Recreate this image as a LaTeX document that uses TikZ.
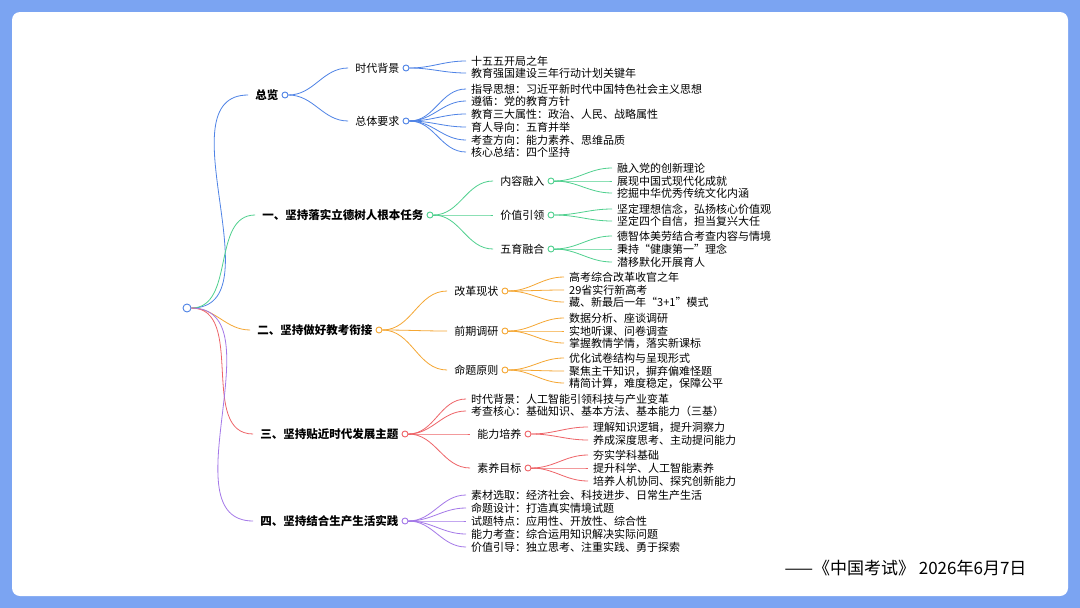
\documentclass[tikz,border=0pt]{standalone}
\usepackage{fontspec}
\setmainfont{Noto Sans CJK SC}
\usetikzlibrary{positioning}
\definecolor{frame}{HTML}{7BA4F2}
\definecolor{cz}{HTML}{4F83E6}
\definecolor{ca}{HTML}{4FD08E}
\definecolor{cb}{HTML}{F5A733}
\definecolor{cc}{HTML}{EE6468}
\definecolor{cd}{HTML}{A478E8}
\tikzset{
  dot/.style={circle, draw=#1, fill=white, line width=0.9pt, inner sep=0pt, minimum size=6pt},
  lv1/.style={anchor=east, inner sep=1pt, font=\fontsize{11.5}{13}\selectfont\bfseries},
  lv2/.style={anchor=east, inner sep=1pt, font=\fontsize{11}{13}\selectfont},
  leaf/.style={anchor=west, inner sep=1pt, font=\fontsize{11}{13}\selectfont},
  link/.style={draw=#1, line width=0.8pt},
}
\begin{document}
\begin{tikzpicture}[x=1pt, y=-1pt]
\useasboundingbox (0,0) rectangle (1080,608);
\fill[frame] (0,0) rectangle (1080,608);
\fill[white, rounded corners=8pt] (12,12) rectangle (1068,596);
% root
\node[dot=cz, minimum size=8pt] (root) at (187,308) {};
% level 1
\node[dot=cz] (z) at (285,95) {};
\node[lv1, left=2pt of z] (zt) {总览};
\node[dot=ca] (a) at (430,215) {};
\node[lv1, left=2pt of a] (at) {一、坚持落实立德树人根本任务};
\node[dot=cb] (b) at (379,330) {};
\node[lv1, left=2pt of b] (bt) {二、坚持做好教考衔接};
\node[dot=cc] (c) at (405,434) {};
\node[lv1, left=2pt of c] (ct) {三、坚持贴近时代发展主题};
\node[dot=cd] (d) at (405,521) {};
\node[lv1, left=2pt of d] (dt) {四、坚持结合生产生活实践};
\foreach \n/\col in {zt/cz, at/ca, bt/cb, ct/cc, dt/cd}
  \draw[link=\col] (root.east) to[out=0, in=180] ([xshift=-6pt]\n.west);
% level 2
\node[dot=cz] (z1) at (406,68) {};
\node[lv2, left=2pt of z1] (z1t) {时代背景};
\node[dot=cz] (z2) at (406,121) {};
\node[lv2, left=2pt of z2] (z2t) {总体要求};
\node[dot=ca] (a1) at (551,181) {};
\node[lv2, left=2pt of a1] (a1t) {内容融入};
\node[dot=ca] (a2) at (551,215) {};
\node[lv2, left=2pt of a2] (a2t) {价值引领};
\node[dot=ca] (a3) at (551,249) {};
\node[lv2, left=2pt of a3] (a3t) {五育融合};
\node[dot=cb] (b1) at (505,291) {};
\node[lv2, left=2pt of b1] (b1t) {改革现状};
\node[dot=cb] (b2) at (505,331) {};
\node[lv2, left=2pt of b2] (b2t) {前期调研};
\node[dot=cb] (b3) at (505,370) {};
\node[lv2, left=2pt of b3] (b3t) {命题原则};
\node[dot=cc] (c3) at (528,434) {};
\node[lv2, left=2pt of c3] (c3t) {能力培养};
\node[dot=cc] (c4) at (528,468) {};
\node[lv2, left=2pt of c4] (c4t) {素养目标};
\foreach \p/\n/\col in {z/z1t/cz, z/z2t/cz, a/a1t/ca, a/a2t/ca, a/a3t/ca,
    b/b1t/cb, b/b2t/cb, b/b3t/cb, c/c3t/cc, c/c4t/cc}
  \draw[link=\col] (\p.east) to[out=0, in=180] ([xshift=-6pt]\n.west);
% leaves
\foreach \p/\col/\x/\y/\t in {
    z1/cz/470/61/十五五开局之年,
    z1/cz/470/73/教育强国建设三年行动计划关键年,
    z2/cz/470/89/指导思想：习近平新时代中国特色社会主义思想,
    z2/cz/470/101/遵循：党的教育方针,
    z2/cz/470/114/教育三大属性：政治、人民、战略属性,
    z2/cz/470/127/育人导向：五育并举,
    z2/cz/470/140/考查方向：能力素养、思维品质,
    z2/cz/470/152/核心总结：四个坚持,
    a1/ca/616/168/融入党的创新理论,
    a1/ca/616/181/展现中国式现代化成就,
    a1/ca/616/193/挖掘中华优秀传统文化内涵,
    a2/ca/616/209/坚定理想信念，弘扬核心价值观,
    a2/ca/616/221/坚定四个自信，担当复兴大任,
    a3/ca/616/236/德智体美劳结合考查内容与情境,
    a3/ca/616/249/秉持“健康第一”理念,
    a3/ca/616/262/潜移默化开展育人,
    b1/cb/568/277/高考综合改革收官之年,
    b1/cb/568/290/29省实行新高考,
    b1/cb/568/302/藏、新最后一年“3+1”模式,
    b2/cb/568/318/数据分析、座谈调研,
    b2/cb/568/331/实地听课、问卷调查,
    b2/cb/568/343/掌握教情学情，落实新课标,
    b3/cb/568/358/优化试卷结构与呈现形式,
    b3/cb/568/371/聚焦主干知识，摒弃偏难怪题,
    b3/cb/568/383/精简计算，难度稳定，保障公平,
    c/cc/470/399/时代背景：人工智能引领科技与产业变革,
    c/cc/470/411/考查核心：基础知识、基本方法、基本能力（三基）,
    c3/cc/592/427/理解知识逻辑，提升洞察力,
    c3/cc/592/440/养成深度思考、主动提问能力,
    c4/cc/592/455/夯实学科基础,
    c4/cc/592/468/提升科学、人工智能素养,
    c4/cc/592/481/培养人机协同、探究创新能力,
    d/cd/470/495/素材选取：经济社会、科技进步、日常生产生活,
    d/cd/470/508/命题设计：打造真实情境试题,
    d/cd/470/521/试题特点：应用性、开放性、综合性,
    d/cd/470/534/能力考查：综合运用知识解决实际问题,
    d/cd/470/547/价值引导：独立思考、注重实践、勇于探索} {
  \node[leaf] (l\x-\y) at (\x,\y) {\t};
  \draw[link=\col] (\p.east) to[out=0, in=180] ([xshift=-4pt]l\x-\y.west);
}
% source
\node[anchor=east, font=\fontsize{17}{20}\selectfont] (src) at (1030,568) {——《中国考试》 2026年6月7日};
\end{tikzpicture}
\end{document}
